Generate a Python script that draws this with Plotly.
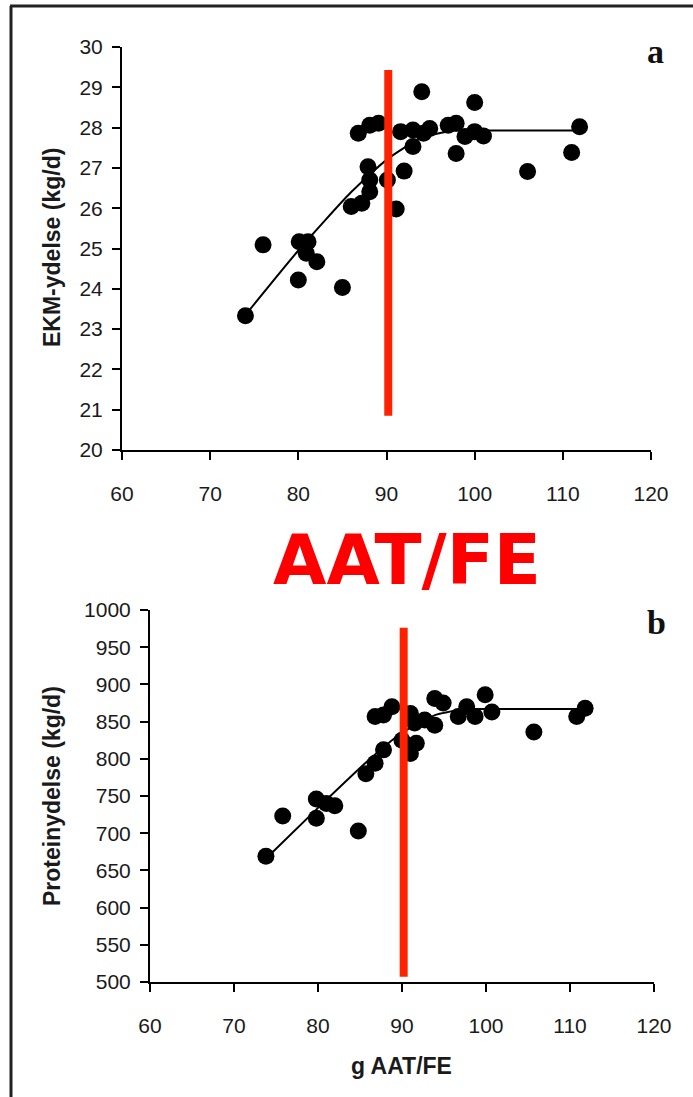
import plotly.graph_objects as go

# Panel a: energy-corrected milk yield vs g AAT per feed unit
aat_a = [74.0, 76.0, 80.1, 81.1, 80.9, 82.1, 80.0, 85.0, 86.0, 87.2, 88.1, 88.1,
         87.9, 86.8, 88.1, 89.1, 90.1, 91.1, 92.0, 94.0, 91.6, 93.0, 93.0, 94.2,
         94.9, 97.0, 97.9, 97.9, 98.9, 100.0, 100.0, 101.0, 106.0, 111.0, 111.9]
ekm = [23.33, 25.09, 25.17, 25.17, 24.88, 24.67, 24.22, 24.03, 26.04, 26.12, 26.41, 26.70,
       27.03, 27.86, 28.06, 28.11, 26.70, 25.98, 26.92, 28.89, 27.90, 27.94, 27.53, 27.86,
       27.98, 28.06, 28.11, 27.36, 27.78, 28.62, 27.90, 27.79, 26.91, 27.38, 28.02]

# fitted response for panel a: rising part (knots) and plateau
rise_a_x = [74, 80, 86, 90, 94, 97.5]
rise_a_y = [23.35, 24.95, 26.4, 27.2, 27.75, 27.93]
plateau_a_x = [97.5, 112]
plateau_a_y = [27.93, 27.93]

# Panel b: protein yield vs g AAT per feed unit
aat_b = [73.8, 75.8, 79.8, 79.8, 81.0, 82.0, 84.8, 85.7, 86.8, 87.8, 86.8, 87.8,
         88.8, 90.0, 91.0, 91.0, 91.7, 91.5, 92.7, 93.9, 94.9, 93.9, 96.7, 97.7,
         98.7, 99.9, 100.7, 105.7, 110.8, 111.8]
protein = [669, 723, 746, 720, 740, 737, 703, 780, 794, 812, 857, 859,
           870, 825, 861, 807, 821, 848, 852, 881, 875, 845, 857, 870,
           857, 886, 863, 836, 857, 868]

rise_b_x = [74, 80, 86, 90, 94, 97.5]
rise_b_y = [668, 734, 798, 835, 859, 867]
plateau_b_x = [97.5, 112]
plateau_b_y = [867, 867]

# recommended AAT/FE level marked on both panels
norm_x = [90.2, 90.2]
norm_a_y = [20.85, 29.43]
norm_b_y = [507, 976]

x_ticks = [60, 70, 80, 90, 100, 110, 120]
y_ticks_a = list(range(20, 31))
y_ticks_b = list(range(500, 1001, 50))

W, H = 693, 1097
TICK_FONT = dict(family="Liberation Sans, Arial", size=21, color="#1a1a1a")
TITLE_FONT = dict(family="Liberation Sans, Arial", size=23, color="#1a1a1a")

fig = go.Figure()

for xa, ya, xs, ys, rx, ry, plx, ply, ny in [
    ("x", "y", aat_a, ekm, rise_a_x, rise_a_y, plateau_a_x, plateau_a_y, norm_a_y),
    ("x2", "y2", aat_b, protein, rise_b_x, rise_b_y, plateau_b_x, plateau_b_y, norm_b_y),
]:
    fig.add_trace(go.Scatter(x=rx, y=ry, mode="lines", xaxis=xa, yaxis=ya,
                             line=dict(color="black", width=2, shape="spline", smoothing=0.6),
                             showlegend=False, hoverinfo="skip"))
    fig.add_trace(go.Scatter(x=plx, y=ply, mode="lines", xaxis=xa, yaxis=ya,
                             line=dict(color="black", width=2),
                             showlegend=False, hoverinfo="skip"))
    fig.add_trace(go.Scatter(x=xs, y=ys, mode="markers", xaxis=xa, yaxis=ya,
                             marker=dict(color="black", size=17, line=dict(width=0)),
                             showlegend=False))
    fig.add_trace(go.Scatter(x=norm_x, y=ny, mode="lines", xaxis=xa, yaxis=ya,
                             line=dict(color="#ff2200", width=8),
                             showlegend=False, hoverinfo="skip"))


def px_x(p):
    return p / W


def px_y(p):
    return 1 - p / H


common_x = dict(range=[60, 120], tickvals=x_ticks, ticks="outside", ticklen=8, tickwidth=2,
                tickcolor="black", showline=True, linewidth=2, linecolor="black",
                showgrid=False, zeroline=False, tickfont=TICK_FONT, ticklabelstandoff=16,
                automargin=False)
common_y = dict(ticks="outside", ticklen=8, tickwidth=2, tickcolor="black",
                showline=True, linewidth=2, linecolor="black",
                showgrid=False, zeroline=False, tickfont=TICK_FONT, ticklabelstandoff=5,
                automargin=False)

fig.update_layout(
    width=W, height=H, autosize=False,
    margin=dict(l=0, r=0, t=0, b=0, pad=0, autoexpand=False),
    paper_bgcolor="white", plot_bgcolor="white",
    xaxis=dict(domain=[px_x(122), px_x(651)], anchor="y", **common_x),
    yaxis=dict(domain=[px_y(450), px_y(47)], anchor="x", range=[20, 30],
               tickvals=y_ticks_a, **common_y),
    xaxis2=dict(domain=[px_x(150), px_x(654)], anchor="y2", **common_x),
    yaxis2=dict(domain=[px_y(982), px_y(610)], anchor="x2", range=[500, 1000],
                tickvals=y_ticks_b, **common_y),
)

annotations = [
    dict(text="<b>EKM-ydelse (kg/d)</b>", x=px_x(52), y=px_y(248), textangle=-90,
         font=TITLE_FONT),
    dict(text="<b>Proteinydelse (kg/d)</b>", x=px_x(52), y=px_y(796), textangle=-90,
         font=TITLE_FONT),
    dict(text="<b>g AAT/FE</b>", x=px_x(401), y=px_y(1066), font=TITLE_FONT),
    dict(text="<b>a</b>", x=px_x(655), y=px_y(52),
         font=dict(family="Liberation Serif, Times New Roman", size=34, color="#111")),
    dict(text="<b>b</b>", x=px_x(656), y=px_y(622),
         font=dict(family="Liberation Serif, Times New Roman", size=34, color="#111")),
    dict(text="<b>AAT/FE</b>", x=px_x(407), y=px_y(560),
         font=dict(family="DejaVu Sans", size=69, color="#ff0000")),
]
for a in annotations:
    a.update(xref="paper", yref="paper", xanchor="center", yanchor="middle", showarrow=False)
fig.update_layout(annotations=annotations)

# page frame along the top and left edges
fig.add_shape(type="line", xref="paper", yref="paper", x0=px_x(10), x1=1.0,
              y0=px_y(6), y1=px_y(6), line=dict(color="#222", width=3))
fig.add_shape(type="line", xref="paper", yref="paper", x0=px_x(11), x1=px_x(11),
              y0=px_y(6), y1=0, line=dict(color="#222", width=3))

fig.write_html("out.html")
